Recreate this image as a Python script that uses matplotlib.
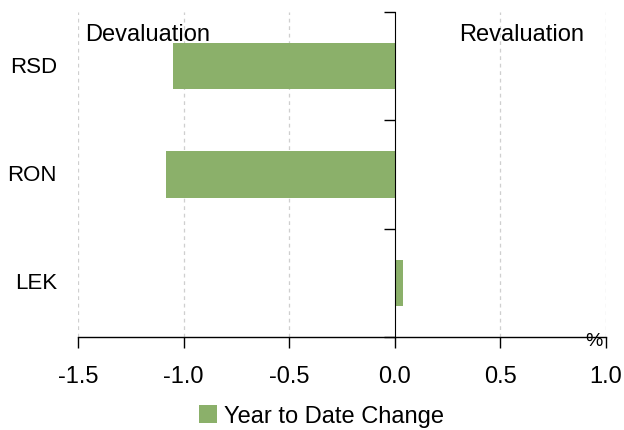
import matplotlib
matplotlib.use("Agg")
import matplotlib.pyplot as plt
import numpy as np

categories = ["RSD", "RON", "LEK"]
values = [-1.05, -1.085, 0.04]
series_name = "Year to Date Change"
xticks = [-1.5, -1.0, -0.5, 0.0, 0.5, 1.0]
xtick_labels = ["-1.5", "-1.0", "-0.5", "0.0", "0.5", "1.0"]

FONT = ["Liberation Sans", "DejaVu Sans"]
GREEN = "#8bb06a"

fig = plt.figure(figsize=(6.24, 4.31), dpi=100)
ax = fig.add_axes([0.125, 0.2158, 0.8462, 0.754])

ypos = np.arange(len(categories))
ax.barh(ypos, values, height=0.43, color=GREEN, label=series_name, zorder=2)

ax.set_xlim(-1.5, 1.0)
ax.set_ylim(len(categories) - 0.5, -0.5)

# x axis
ax.set_xticks(xticks)
ax.set_xticklabels(xtick_labels, fontfamily=FONT, fontsize=17)
ax.tick_params(axis="x", direction="out", length=8, width=1, pad=12, color="black")
for x in xticks:
    if x != 0:
        ax.axvline(x, color="#cfcfcf", lw=0.9, ls=(0, (3, 3)), zorder=0)

# spines
ax.spines["top"].set_visible(False)
ax.spines["right"].set_visible(False)
ax.spines["left"].set_position(("data", 0))
ax.spines["left"].set_zorder(3)
ax.spines["bottom"].set_linewidth(1)

# y ticks at category boundaries on the zero line
ax.set_yticks(np.arange(-0.5, len(categories), 1.0))
ax.set_yticklabels([])
ax.tick_params(axis="y", direction="out", length=8, width=1, color="black")

ytrans = ax.get_yaxis_transform()
for i, c in enumerate(categories):
    ax.text(-0.04, i, c, transform=ytrans, ha="right", va="center",
            fontfamily=FONT, fontsize=16)

ax.text(0.013, 0.915, "Devaluation", transform=ax.transAxes, ha="left",
        va="baseline", fontfamily=FONT, fontsize=17)
ax.text(0.958, 0.915, "Revaluation", transform=ax.transAxes, ha="right",
        va="baseline", fontfamily=FONT, fontsize=17)
ax.text(0.977, -0.012, "%", transform=ax.transAxes, ha="center", va="center",
        fontfamily=FONT, fontsize=14)

leg = fig.legend(loc="center", bbox_to_anchor=(0.515, 0.032), frameon=False,
                 handlelength=0.75, handleheight=0.75, handletextpad=0.3,
                 prop={"family": FONT, "size": 17})

fig.savefig("out.png", dpi=100)
